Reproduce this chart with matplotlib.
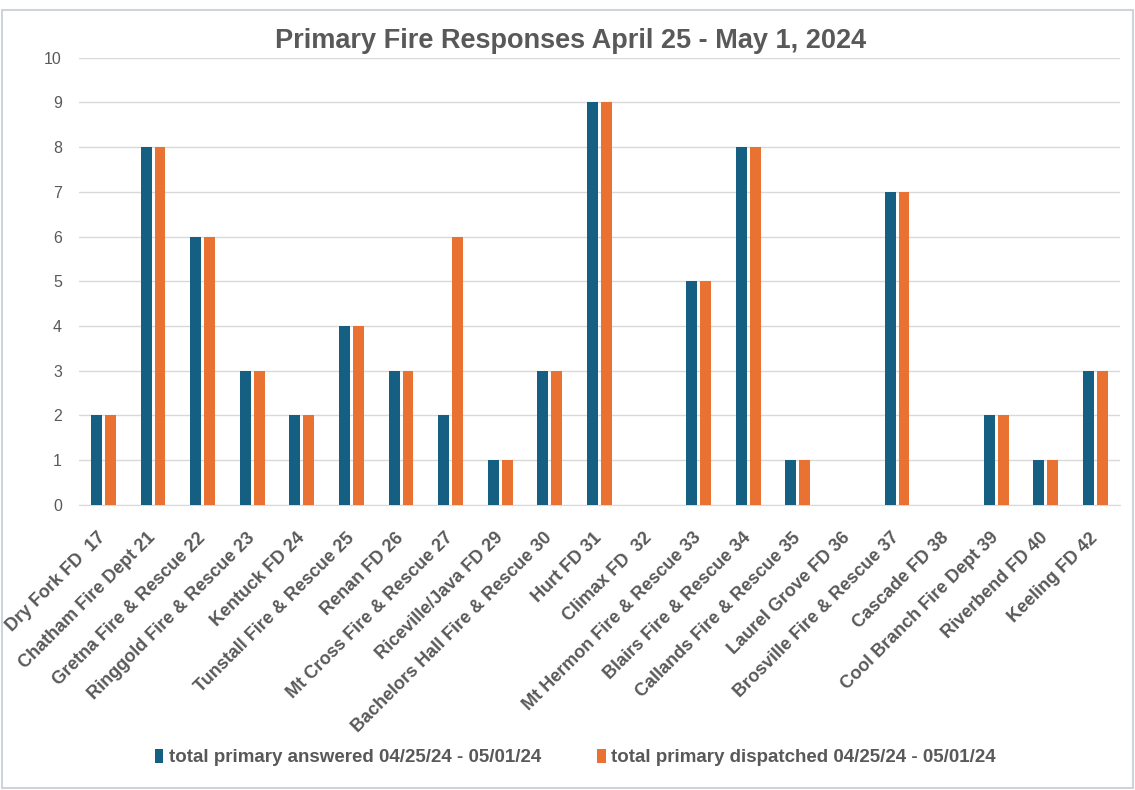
import numpy as np
import matplotlib
matplotlib.use('Agg')
import matplotlib.pyplot as plt

# station names and counts
stations = ['Dry Fork FD  17', 'Chatham Fire Dept 21', 'Gretna Fire & Rescue 22',
            'Ringgold Fire & Rescue 23', 'Kentuck FD 24', 'Tunstall Fire & Rescue 25',
            'Renan FD 26', 'Mt Cross Fire & Rescue 27', 'Riceville/Java FD 29',
            'Bachelors Hall Fire & Rescue 30', 'Hurt FD 31', 'Climax FD  32',
            'Mt Hermon Fire & Rescue 33', 'Blairs Fire & Rescue 34', 'Callands Fire & Rescue 35',
            'Laurel Grove FD 36', 'Brosville Fire & Rescue 37', 'Cascade FD 38',
            'Cool Branch Fire Dept 39', 'Riverbend FD 40', 'Keeling FD 42']
answered = [2, 8, 6, 3, 2, 4, 3, 2, 1, 3, 9, 0, 5, 8, 1, 0, 7, 0, 2, 1, 3]
dispatched = [2, 8, 6, 3, 2, 4, 3, 6, 1, 3, 9, 0, 5, 8, 1, 0, 7, 0, 2, 1, 3]
yticks = list(range(0, 11))

blue = '#156082'
orange = '#E97132'
grey = '#595959'
font = 'Liberation Sans'

fig = plt.figure(figsize=(11.35, 7.9), dpi=100)
ax = fig.add_axes([0.0693, 0.361, 0.9177, 0.566])

x = np.arange(len(stations))
w = 0.22
ax.bar(x - 0.14, answered, w, color=blue, label='total primary answered 04/25/24 - 05/01/24', zorder=3)
ax.bar(x + 0.14, dispatched, w, color=orange, label='total primary dispatched 04/25/24 - 05/01/24', zorder=3)

ax.set_xlim(-0.5, len(stations) - 0.5)
ax.set_ylim(0, 10)
ax.set_yticks(yticks)
ax.set_yticklabels([str(t) for t in yticks], color=grey, fontsize=11.5, family=font)
ax.yaxis.grid(True, color='#D9D9D9', linewidth=1, zorder=0)
ax.tick_params(axis='y', length=0, pad=12)
ax.tick_params(axis='x', length=0, pad=22)
for s in ['top', 'right', 'left']:
    ax.spines[s].set_visible(False)
ax.spines['bottom'].set_color('#D9D9D9')

ax.set_xticks(x)
ax.set_xticklabels(stations, rotation=45, ha='right', va='center', rotation_mode='anchor',
                   color=grey, fontsize=13, fontweight='bold', family=font)

fig.text(0.503, 0.948, 'Primary Fire Responses April 25 - May 1, 2024', ha='center', va='center',
         fontsize=19.5, fontweight='bold', color=grey, family=font)

leg = fig.legend(loc='center', bbox_to_anchor=(0.507, 0.041), ncol=2, frameon=False,
                 handlelength=0.45, handleheight=0.8, handletextpad=0.3, columnspacing=3.0,
                 prop={'family': font, 'weight': 'bold', 'size': 13.5})
for t in leg.get_texts():
    t.set_color(grey)

# thin screenshot border
fig.patches.append(plt.Rectangle((0.002, 0.002), 0.996, 0.985, transform=fig.transFigure,
                                 fill=False, edgecolor='#D0D4DA', linewidth=1.5))

fig.savefig('out.png', dpi=100)
